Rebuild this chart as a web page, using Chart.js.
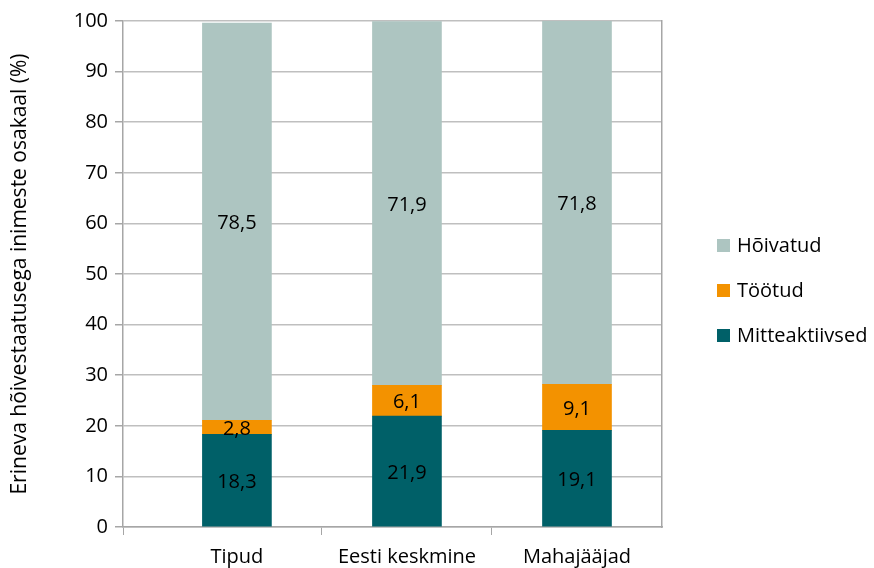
<!DOCTYPE html>
<html>
<head>
<meta charset="utf-8">
<script src="https://cdn.jsdelivr.net/npm/chart.js@4"></script>
<style>
  html, body { margin: 0; padding: 0; background: #fff; overflow: hidden; }
  #wrap { position: relative; width: 874px; height: 568px; }
  #legend { position: absolute; left: 717px; top: 222px; font: 20px 'Open Sans', sans-serif; color: #000; white-space: nowrap; }
  #legend div { height: 45px; line-height: 45px; }
  #legend span.box { display: inline-block; width: 13px; height: 13px; margin-right: 7px; vertical-align: middle; position: relative; top: -1px; }
</style>
</head>
<body>
<div id="wrap"><canvas id="myChart"></canvas><div id="legend"></div></div>
<script>
const categories = ['Tipud', 'Eesti keskmine', 'Mahajääjad'];
const mitteaktiivsed = [18.3, 21.9, 19.1];
const tootud = [2.8, 6.1, 9.1];
const hoivatud = [78.5, 71.9, 71.8];
const yTitle = 'Erineva hõivestaatusega inimeste osakaal (%)';

const gray = '#a6a6a6';
const toPoints = (arr) => arr.map((v, i) => ({ x: i, y: v }));
const fmt = (v) => v.toFixed(1).replace('.', ',');

// labels in the middle of each bar segment
const barLabels = {
  id: 'barLabels',
  afterDatasetsDraw(chart) {
    const ctx = chart.ctx;
    ctx.save();
    ctx.font = "20px 'Open Sans', sans-serif";
    ctx.fillStyle = '#000';
    ctx.textAlign = 'center';
    ctx.textBaseline = 'middle';
    chart.data.datasets.forEach((ds, di) => {
      chart.getDatasetMeta(di).data.forEach((bar, i) => {
        const p = bar.getProps(['x', 'y', 'base'], true);
        ctx.fillText(fmt(ds.data[i].y), p.x, (p.y + p.base) / 2 + 2);
      });
    });
    ctx.restore();
  }
};

function draw() {
  Chart.defaults.font.family = "'Open Sans', sans-serif";
  Chart.defaults.font.size = 20;
  Chart.defaults.color = '#000';

  const chart = new Chart(document.getElementById('myChart'), {
    type: 'bar',
    data: {
      datasets: [
        { label: 'Mitteaktiivsed', data: toPoints(mitteaktiivsed), backgroundColor: '#006068' },
        { label: 'Töötud', data: toPoints(tootud), backgroundColor: '#f39200' },
        { label: 'Hõivatud', data: toPoints(hoivatud), backgroundColor: '#adc5c1' }
      ]
    },
    plugins: [barLabels],
    options: {
      responsive: true,
      maintainAspectRatio: false,
      animation: false,
      layout: { padding: { top: 21, left: 0, right: 212, bottom: 0 } },
      barThickness: 69,
      plugins: {
        legend: { display: false },
        tooltip: { enabled: false }
      },
      scales: {
        x: {
          type: 'linear',
          stacked: true,
          offset: false,
          min: -0.67,
          max: 2.5,
          afterBuildTicks: (scale) => {
            scale.ticks = [-0.67, 0, 0.5, 1, 1.5, 2].map(v => ({ value: v }));
          },
          afterFit: (scale) => { scale.height = 41; },
          ticks: {
            autoSkip: false,
            maxRotation: 0,
            padding: 10,
            callback: (v) => Number.isInteger(v) ? categories[v] : ''
          },
          grid: {
            offset: false,
            drawOnChartArea: false,
            tickLength: 8,
            tickColor: (c) => (c.tick && Number.isInteger(c.tick.value)) ? 'rgba(0,0,0,0)' : gray
          },
          border: { color: gray, width: 1.5 }
        },
        y: {
          stacked: true,
          min: 0,
          max: 100,
          afterFit: (scale) => { scale.width = 123; },
          ticks: { stepSize: 10, padding: 7 },
          grid: { color: '#bfbfbf', tickColor: gray, tickLength: 8, lineWidth: 1.5 },
          border: { color: gray, width: 1.5 },
          title: { display: true, text: yTitle, font: { size: 21 }, padding: { top: 7, bottom: 0 } }
        },
        y2: {
          position: 'right',
          min: 0,
          max: 100,
          afterFit: (scale) => { scale.width = 0; },
          ticks: { display: false },
          grid: { drawOnChartArea: false, drawTicks: false },
          border: { color: gray, width: 1.5 }
        }
      }
    }
  });

  // legend in reverse dataset order, as in the original
  const legend = document.getElementById('legend');
  chart.data.datasets.slice().reverse().forEach(ds => {
    const row = document.createElement('div');
    const box = document.createElement('span');
    box.className = 'box';
    box.style.background = ds.backgroundColor;
    row.appendChild(box);
    row.appendChild(document.createTextNode(ds.label));
    legend.appendChild(row);
  });
}

document.fonts.load("20px 'Open Sans'").then(draw, draw);
</script>
</body>
</html>
